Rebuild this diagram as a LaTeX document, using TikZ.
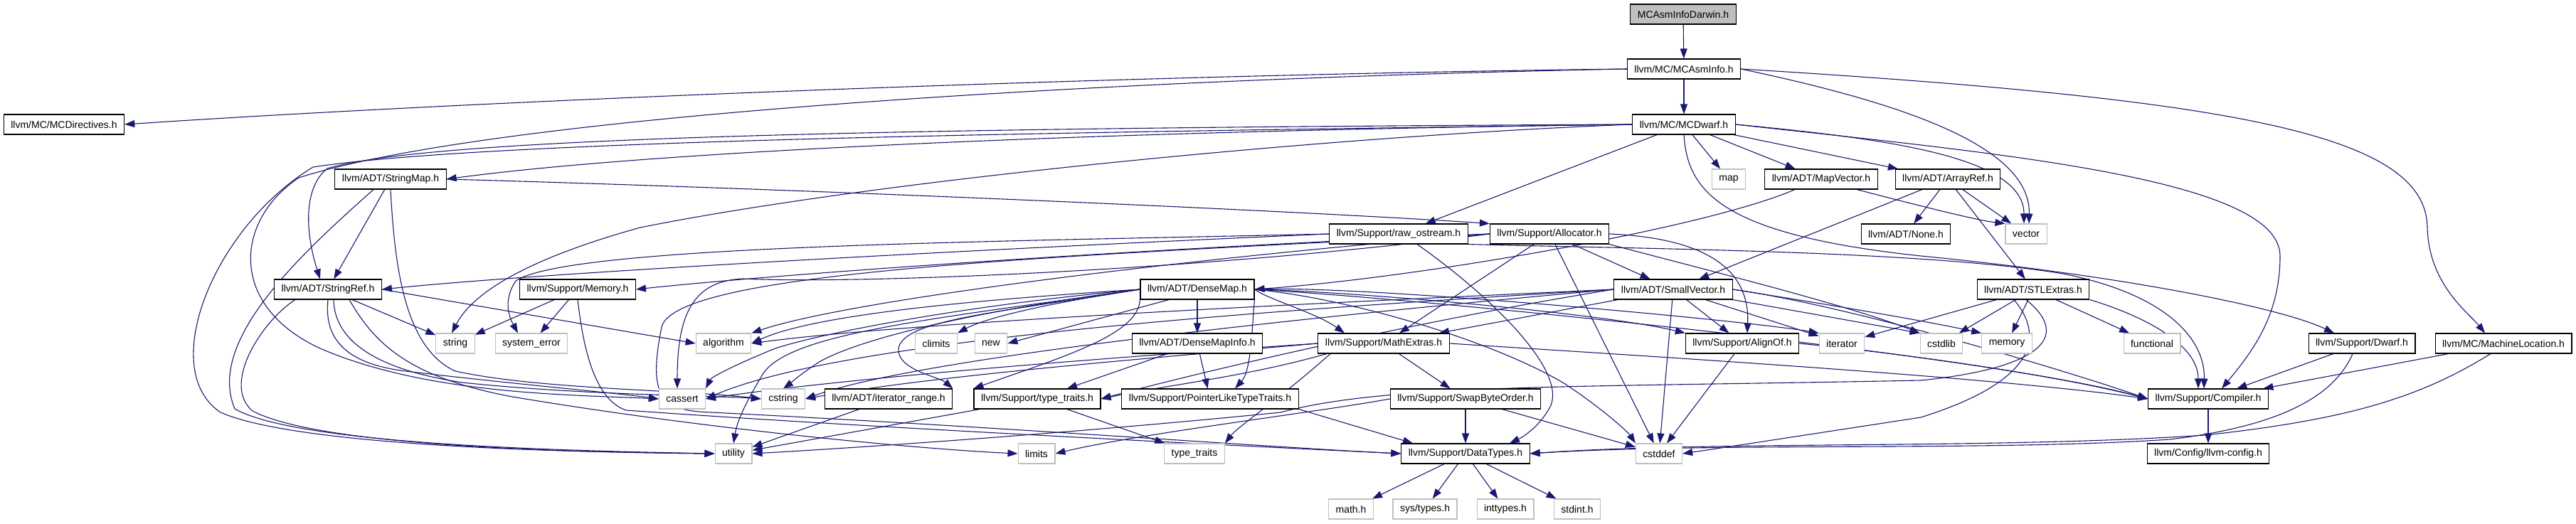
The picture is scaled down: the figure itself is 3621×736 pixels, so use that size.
\documentclass[tikz,border=0pt]{standalone}
\usepackage{fontspec}
\setmainfont{Liberation Sans}
\usetikzlibrary{arrows.meta}
\definecolor{eblue}{HTML}{191970}
\definecolor{gbord}{HTML}{BFBFBF}
\definecolor{rootfill}{HTML}{BFBFBF}
\pgfdeclarelayer{background}
\pgfsetlayers{background,main}
\tikzset{
  nb/.style={draw=black, line width=1.1pt, fill=white, minimum height=28pt, inner xsep=10pt, inner ysep=0pt, font=\fontsize{14}{16}\selectfont},
  ng/.style={nb, draw=gbord},
  e/.style={draw=eblue, line width=1.1pt, -{Triangle[length=14pt,width=10pt]}},
}
\begin{document}
\begin{tikzpicture}[x=1pt,y=-1pt]
\useasboundingbox (0,0) rectangle (3621,736);
% nodes
\node[nb, fill=rootfill] (root) at (2366,20) {MCAsmInfoDarwin.h};
\node[nb] (asminfo) at (2367,97) {llvm/MC/MCAsmInfo.h};
\node[nb] (directives) at (90,175) {llvm/MC/MCDirectives.h};
\node[nb] (dwarf) at (2367,175) {llvm/MC/MCDwarf.h};
\node[nb] (strmap) at (549,252) {llvm/ADT/StringMap.h};
\node[ng] (map) at (2430,252) {map};
\node[nb] (mapvec) at (2560,252) {llvm/ADT/MapVector.h};
\node[nb] (arrayref) at (2738,252) {llvm/ADT/ArrayRef.h};
\node[nb] (rawos) at (1966,329) {llvm/Support/raw\_ostream.h};
\node[nb] (alloc) at (2178,329) {llvm/Support/Allocator.h};
\node[nb] (none) at (2679,329) {llvm/ADT/None.h};
\node[ng] (vector) at (2848,329) {vector};
\node[nb] (strref) at (461,407) {llvm/ADT/StringRef.h};
\node[nb] (memory) at (812,407) {llvm/Support/Memory.h};
\node[nb] (densemap) at (1683,407) {llvm/ADT/DenseMap.h};
\node[nb] (smallvec) at (2352,407) {llvm/ADT/SmallVector.h};
\node[nb] (stlextras) at (2858,407) {llvm/ADT/STLExtras.h};
\node[ng] (string) at (640,483) {string};
\node[ng] (syserr) at (747,483) {system\_error};
\node[ng] (algorithm) at (1017,483) {algorithm};
\node[ng] (climits) at (1316,483) {climits};
\node[ng] (new) at (1393,483) {new};
\node[nb] (dmi) at (1683,483) {llvm/ADT/DenseMapInfo.h};
\node[nb] (mathext) at (1945,483) {llvm/Support/MathExtras.h};
\node[nb] (alignof) at (2449,483) {llvm/Support/AlignOf.h};
\node[ng] (iterator) at (2589,483) {iterator};
\node[ng] (cstdlib) at (2729,483) {cstdlib};
\node[ng] (memoryh) at (2821,483) {memory};
\node[ng] (functional) at (3025,483) {functional};
\node[nb] (dwarfh) at (3320,483) {llvm/Support/Dwarf.h};
\node[nb] (machloc) at (3519,483) {llvm/MC/MachineLocation.h};
\node[ng] (cassert) at (959,561) {cassert};
\node[ng] (cstring) at (1101,561) {cstring};
\node[nb] (itrange) at (1249,561) {llvm/ADT/iterator\_range.h};
\node[nb] (typetraitsh) at (1458,561) {llvm/Support/type\_traits.h};
\node[nb] (pltt) at (1701,561) {llvm/Support/PointerLikeTypeTraits.h};
\node[nb] (swap) at (2060,561) {llvm/Support/SwapByteOrder.h};
\node[nb] (compiler) at (3104,561) {llvm/Support/Compiler.h};
\node[ng] (utility) at (1031,638) {utility};
\node[ng] (limits) at (1457,638) {limits};
\node[ng] (typetraits) at (1679,638) {type\_traits};
\node[nb] (datatypes) at (2060,638) {llvm/Support/DataTypes.h};
\node[ng] (cstddef) at (2332,638) {cstddef};
\node[nb] (llvmconfig) at (3104,638) {llvm/Config/llvm-config.h};
\node[ng] (math) at (1899,716) {math.h};
\node[ng] (systypes) at (2003,716) {sys/types.h};
\node[ng] (inttypes) at (2116,716) {inttypes.h};
\node[ng] (stdint) at (2217,716) {stdint.h};

\begin{pgfonlayer}{background}
% MCAsmInfoDarwin / MCAsmInfo
\draw[e] (root) -- (asminfo);
\draw[e] (asminfo.west) .. controls (1600,105) and (700,140) .. (directives.east);
\draw[e] (asminfo) -- (dwarf);
\draw[e] (asminfo.east) .. controls (3150,140) and (3410,190) .. (3412,320) .. controls (3414,400) and (3470,440) .. ([xshift=-26pt]machloc.north);
\draw[e] (asminfo.west) .. controls (1600,110) and (700,160) .. (420,250) .. controls (330,310) and (320,430) .. (450,490) .. controls (600,555) and (800,555) .. (cassert.west);
\draw[e] (asminfo.east) .. controls (2650,140) and (2855,200) .. ([xshift=4pt]vector.north);
% MCDwarf
\draw[e] (dwarf) -- (arrayref);
\draw[e] (dwarf) -- (mapvec);
\draw[e] (dwarf) -- (map);
\draw[e] (dwarf) -- (rawos);
\draw[e] (dwarf.west) .. controls (1500,185) and (900,215) .. (strmap.east);
\draw[e] (dwarf.west) .. controls (1200,180) and (600,195) .. (460,237) .. controls (425,265) and (430,330) .. ([xshift=-11pt]strref.north);
\draw[e] (dwarf.west) .. controls (1600,185) and (700,195) .. (440,235) .. controls (300,320) and (220,520) .. (310,580) .. controls (420,628) and (800,636) .. (utility.west);
\draw[e] (dwarf.west) .. controls (1900,190) and (1250,250) .. (900,320) .. controls (720,370) and (660,420) .. ([xshift=-5pt]string.north);
\draw[e] (dwarf.south) .. controls (2372,270) and (2420,330) .. (2700,360) .. controls (2960,385) and (3200,430) .. ([xshift=-39pt]dwarfh.north);
\draw[e] (dwarf.east) .. controls (2800,215) and (3205,250) .. (3205,360) .. controls (3205,440) and (3170,490) .. ([xshift=19pt]compiler.north);
\draw[e] (dwarf.east) .. controls (2650,195) and (2845,220) .. ([xshift=-3pt]vector.north);
% StringMap
\draw[e] (strmap) -- (strref);
\draw[e] (strmap.east) .. controls (1100,265) and (1800,295) .. (alloc.north west);
\draw[e] (strmap.south) .. controls (555,380) and (570,490) .. (640,522) .. controls (760,548) and (960,548) .. (cstring.west);
\draw[e] ([xshift=-24pt]strmap.south) .. controls (420,360) and (290,480) .. (330,575) .. controls (420,626) and (800,634) .. (utility.west);
% StringRef
\draw[e] (strref.east) -- (algorithm.west);
\draw[e] (strref) -- (string);
\draw[e] (strref.south) .. controls (455,480) and (490,512) .. (570,522) .. controls (720,540) and (860,552) .. (cassert.west);
\draw[e] ([xshift=8pt]strref.south) .. controls (470,480) and (530,520) .. (650,538) .. controls (820,556) and (1000,556) .. (cstring.west);
\draw[e] ([xshift=30pt]strref.south) .. controls (525,480) and (570,530) .. (720,558) .. controls (1000,605) and (1300,632) .. (limits.west);
\draw[e] ([xshift=-46pt]strref.south) .. controls (370,450) and (310,540) .. (355,578) .. controls (450,628) and (800,636) .. (utility.west);
% Memory
\draw[e] (memory) -- (string);
\draw[e] (memory) -- (syserr);
\draw[e] (memory.south) .. controls (818,470) and (830,560) .. (880,577) .. controls (1200,600) and (1700,625) .. (datatypes.west);
% raw_ostream
\draw[e] (rawos.west) .. controls (1500,345) and (800,380) .. (strref.east);
\draw[e] (rawos.west) .. controls (1400,340) and (800,345) .. (725,395) .. controls (705,425) and (718,450) .. ([xshift=-19pt]syserr.north);
\draw[e] ([xshift=26pt]rawos.south) .. controls (2100,420) and (2200,520) .. (2180,570) .. controls (2165,600) and (2140,615) .. ([xshift=62pt]datatypes.north);
\draw[e] (rawos.south east) .. controls (2300,350) and (2700,352) .. (2900,385) .. controls (3050,415) and (3100,480) .. ([xshift=-6pt]compiler.north);
% Allocator
\draw[e] (alloc.west) .. controls (1600,350) and (1100,385) .. (memory.east);
\draw[e] (alloc) -- (smallvec);
\draw[e] (alloc.east) .. controls (2400,335) and (2460,380) .. ([xshift=7pt]alignof.north);
\draw[e] (alloc) -- (mathext);
\draw[e] ([xshift=8pt]alloc.south) -- (cstddef);
\draw[e] (alloc.south east) .. controls (2400,380) and (2600,430) .. (cstdlib.north west);
\draw[e] (alloc.west) .. controls (1700,380) and (1200,400) .. (1045,392) .. controls (975,395) and (952,440) .. ([xshift=-7pt]cassert.north);
\draw[e] (alloc.west) .. controls (1700,360) and (1200,420) .. (algorithm.north east);
\draw[e] (alloc.west) .. controls (1500,360) and (950,380) .. (930,460) .. controls (910,560) and (930,578) .. (1000,580) .. controls (1400,600) and (1800,630) .. (datatypes.west);
% MapVector, ArrayRef
\draw[e] ([xshift=-37pt]mapvec.south) .. controls (2400,320) and (2000,390) .. (densemap.east);
\draw[e] ([xshift=50pt]mapvec.south) .. controls (2700,290) and (2780,310) .. (vector.north west);
\draw[e] (arrayref) -- (vector);
\draw[e] (arrayref) -- (none);
\draw[e] (arrayref) -- (smallvec);
\draw[e] (arrayref) -- (stlextras);
% DenseMap
\draw[e] (densemap) -- (dmi);
\draw[e] (densemap.west) .. controls (1400,420) and (1150,440) .. (algorithm.east);
\draw[e] (densemap.west) .. controls (1350,430) and (1150,470) .. (1090,490) .. controls (1040,510) and (1000,530) .. (cassert.north east);
\draw[e] (densemap.west) .. controls (1350,440) and (1200,480) .. (1150,510) .. controls (1120,530) and (1110,540) .. (cstring.north);
\draw[e] (densemap.west) .. controls (1300,450) and (1100,470) .. (1070,530) .. controls (1040,580) and (1035,600) .. (utility.north);
\draw[e] (densemap.west) .. controls (1450,430) and (1380,450) .. (climits.north east);
\draw[e] ([xshift=-40pt]densemap.south) -- (new.east);
\draw[e] (densemap.east) .. controls (1780,420) and (1850,440) .. ([xshift=-55pt]mathext.north);
\draw[e] (densemap.east) .. controls (1900,410) and (2250,440) .. (alignof.north west);
\draw[e] (densemap.east) .. controls (2000,420) and (2800,500) .. (compiler.west);
\draw[e] (densemap.east) .. controls (1900,420) and (2100,480) .. (2200,540) .. controls (2260,580) and (2290,610) .. (cstddef.north west);
\draw[e] (densemap.east) .. controls (1900,400) and (2450,450) .. (iterator.north west);
\draw[e] (densemap.south east) .. controls (1760,450) and (1760,520) .. ([xshift=35pt]pltt.north);
\draw[e] (densemap.south west) .. controls (1600,470) and (1500,500) .. (typetraitsh.north west);
\draw[e] (densemap.west) .. controls (1400,440) and (1270,450) .. (1263,490) .. controls (1260,520) and (1320,530) .. (itrange.north east);
% DenseMapInfo
\draw[e] (dmi) -- (pltt);
\draw[e] (dmi) -- (typetraitsh);
% SmallVector
\draw[e] (smallvec) -- (alignof);
\draw[e] (smallvec) -- (mathext);
\draw[e] (smallvec) -- (cstddef);
\draw[e] (smallvec) -- (iterator);
\draw[e] (smallvec.south east) -- (cstdlib.north west);
\draw[e] (smallvec.east) .. controls (2550,425) and (2700,450) .. (memoryh.north west);
\draw[e] (smallvec.east) .. controls (2600,430) and (2900,520) .. (compiler.west);
\draw[e] (smallvec.west) .. controls (2000,420) and (1300,450) .. (algorithm.east);
\draw[e] (smallvec.west) .. controls (1900,430) and (1200,470) .. (cassert.east);
\draw[e] (smallvec.west) .. controls (1900,440) and (1300,500) .. (cstring.east);
\draw[e] (smallvec.west) .. controls (2000,450) and (1700,520) .. (typetraitsh.east);
% STLExtras
\draw[e] (stlextras) -- (iterator);
\draw[e] (stlextras) -- (cstdlib);
\draw[e] (stlextras) -- (memoryh);
\draw[e] (stlextras) -- (functional);
\draw[e] (stlextras.south east) .. controls (3000,440) and (3090,480) .. ([xshift=-14pt]compiler.north);
\draw[e] ([xshift=-27pt]stlextras.south) .. controls (2880,480) and (2850,540) .. (2700,587) .. controls (2550,610) and (2420,630) .. (cstddef.east);
\draw[e] ([xshift=-10pt]stlextras.south) .. controls (2920,480) and (2850,520) .. (2700,535) .. controls (2200,545) and (1950,540) .. (1800,580) .. controls (1500,610) and (1200,630) .. (utility.east);
% Dwarf.h, MachineLocation.h
\draw[e] (dwarfh) -- (compiler);
\draw[e] (machloc) -- (compiler);
\draw[e] ([xshift=-13pt]dwarfh.south) .. controls (3280,560) and (3200,600) .. (3050,618) .. controls (2800,635) and (2400,622) .. (datatypes.east);
\draw[e] ([xshift=-18pt]machloc.south) .. controls (3400,560) and (3300,590) .. (3100,612) .. controls (2800,632) and (2400,620) .. (datatypes.east);
% SwapByteOrder
\draw[e] (swap) -- (datatypes);
\draw[e] (swap) -- (cstddef);
\draw[e] (swap.west) .. controls (1850,580) and (1600,610) .. (limits.east);
% MathExtras
\draw[e] (mathext) -- (swap);
\draw[e] (mathext.east) .. controls (2300,500) and (2800,530) .. (compiler.west);
\draw[e] ([xshift=-75pt]mathext.south) .. controls (1800,560) and (1740,600) .. (typetraits.north east);
\draw[e] (mathext.west) .. controls (1600,500) and (1200,530) .. (cassert.east);
\draw[e] (mathext.west) .. controls (1600,505) and (1300,530) .. (cstring.east);
\draw[e] ([xshift=-80pt]mathext.south) .. controls (1750,530) and (1650,540) .. (typetraitsh.east);
% type_traits.h, iterator_range.h, PointerLikeTypeTraits.h
\draw[e] (typetraitsh) -- (utility);
\draw[e] (typetraitsh) -- (typetraits);
\draw[e] (itrange) -- (utility);
\draw[e] (pltt.south east) -- ([xshift=-74pt]datatypes.north);
% AlignOf
\draw[e] (alignof) -- (cstddef);
\draw[e] (alignof.east) .. controls (2700,500) and (2900,530) .. (compiler.west);
% DataTypes, Compiler
\draw[e] (datatypes) -- (math);
\draw[e] (datatypes) -- (systypes);
\draw[e] (datatypes) -- (inttypes);
\draw[e] (datatypes) -- (stdint);
\draw[e] (compiler) -- (llvmconfig);
\end{pgfonlayer}
\end{tikzpicture}
\end{document}
